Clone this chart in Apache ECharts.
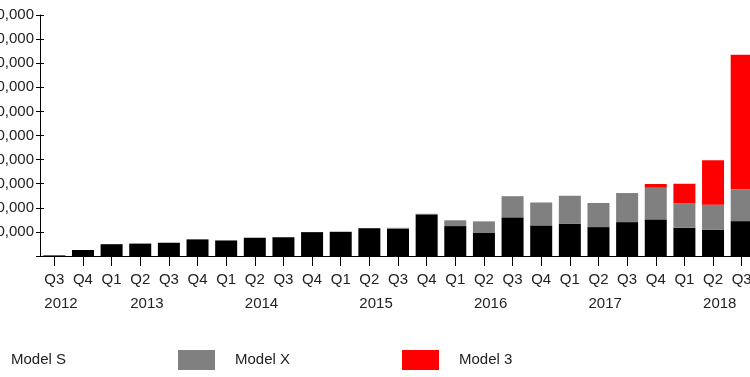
<!DOCTYPE html>
<html>
<head>
<meta charset="utf-8">
<script src="https://cdn.jsdelivr.net/npm/echarts@6/dist/echarts.min.js"></script>
<style>
html,body{margin:0;padding:0;background:#fff;}
#chart{width:750px;height:377px;}
</style>
</head>
<body>
<div id="chart"></div>
<script>
var quarters = ['Q3','Q4','Q1','Q2','Q3','Q4','Q1','Q2','Q3','Q4','Q1','Q2','Q3','Q4','Q1','Q2','Q3','Q4','Q1','Q2','Q3','Q4','Q1','Q2','Q3'];
var yearLabels = ['2012','','','2013','','','','2014','','','','2015','','','','2016','','','','2017','','','','2018',''];
var modelS = [250,2500,4900,5150,5500,6900,6450,7580,7780,9900,10050,11530,11350,17270,12420,9745,16050,12700,13450,12000,14065,15200,11730,10930,14470];
var modelX = [0,0,0,0,0,0,0,0,0,0,0,0,350,250,2400,4625,8775,9500,11550,10000,11865,13120,10070,10370,13190];
var model3 = [0,0,0,0,0,0,0,0,0,0,0,0,0,0,0,0,0,0,0,0,220,1550,8180,18440,55840];
var seriesNames = ['Model S','Model X','Model 3'];
var yTicks = {min:0, max:100000, interval:10000};

var FONT = 'Liberation Sans, Arial, Helvetica, sans-serif';
var TXT = '#222';
var chart = echarts.init(document.getElementById('chart'), null, {renderer:'canvas'});

function legendAt(name, left) {
  return {
    data:[name], left:left, top:350, padding:0, orient:'horizontal',
    itemWidth:37, itemHeight:20, icon:'rect', selectedMode:false,
    textStyle:{fontFamily:FONT, fontSize:15, color:TXT, padding:[0,0,0,15]}
  };
}

chart.setOption({
  animation:false,
  backgroundColor:'#fff',
  color:['#000000','#808080','#ff0000'],
  grid:{left:40, top:15, width:716, height:241, containLabel:false, outerBoundsMode:'none'},
  legend:[legendAt(seriesNames[0], -46), legendAt(seriesNames[1], 178), legendAt(seriesNames[2], 402)],
  xAxis:[{
    type:'category', data:quarters, position:'bottom',
    axisLine:{show:true, lineStyle:{color:'#000', width:1}},
    axisTick:{show:true, alignWithLabel:true, length:10, lineStyle:{color:'#000'}},
    axisLabel:{interval:0, margin:16, fontFamily:FONT, fontSize:15, color:TXT},
    splitLine:{show:false}
  },{
    type:'category', data:yearLabels, position:'bottom', gridIndex:0,
    axisLine:{show:false}, axisTick:{show:false}, splitLine:{show:false},
    axisLabel:{interval:0, margin:40, fontFamily:FONT, fontSize:15, color:TXT,
      formatter:function(v){ return v ? '{y|' + v + '}' : ''; },
      rich:{y:{width:20, align:'left', fontFamily:FONT, fontSize:15, color:TXT}}}
  }],
  yAxis:[{
    type:'value', min:yTicks.min, max:yTicks.max, interval:yTicks.interval,
    axisLine:{show:true, lineStyle:{color:'#000'}},
    axisTick:{show:true, length:4, lineStyle:{color:'#000'}},
    axisLabel:{margin:6, fontFamily:FONT, fontSize:15, color:TXT,
      formatter:function(v){ return v === 0 ? '' : v.toLocaleString('en-US'); }},
    splitLine:{show:false}
  },{
    type:'value', min:yTicks.min, max:yTicks.max, interval:yTicks.interval, position:'left',
    axisLine:{show:false},
    axisTick:{show:true, inside:true, length:4, lineStyle:{color:'#000'}},
    axisLabel:{show:false}, splitLine:{show:false}
  }],
  series:[
    {name:seriesNames[0], type:'bar', stack:'t', data:modelS, barWidth:22, itemStyle:{color:'#000000'}},
    {name:seriesNames[1], type:'bar', stack:'t', data:modelX, barWidth:22, itemStyle:{color:'#808080'}},
    {name:seriesNames[2], type:'bar', stack:'t', data:model3, barWidth:22, itemStyle:{color:'#ff0000'}}
  ]
});
</script>
</body>
</html>
